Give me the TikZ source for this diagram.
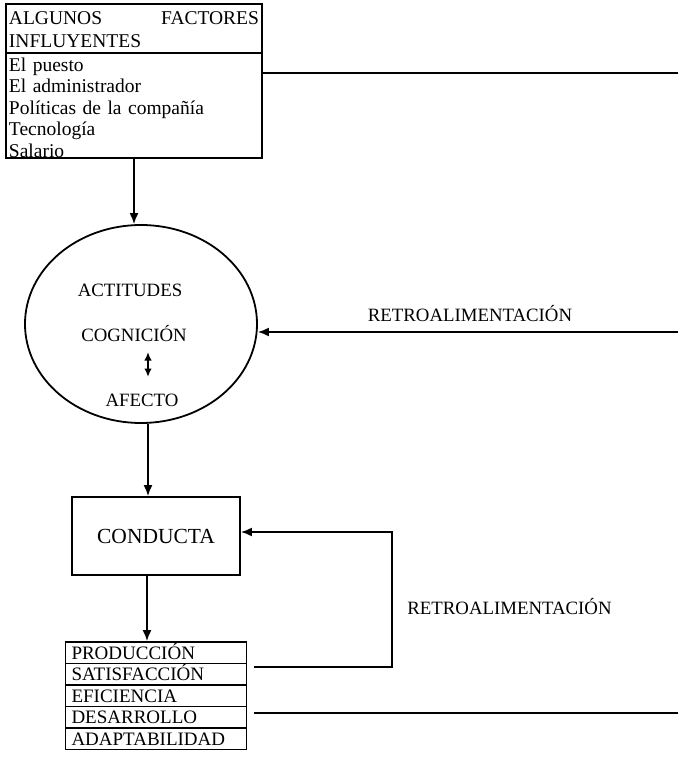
\documentclass[tikz,border=0pt]{standalone}
\usepackage{fontspec}
\setmainfont{Liberation Serif}
\usetikzlibrary{shapes,arrows,arrows.meta}

\begin{document}
\begin{tikzpicture}[x=1pt, y=1pt, line width=1.8pt,
	txt/.style={font=\fontsize{19}{22.5}\selectfont},
	lbl/.style={font=\fontsize{18.8}{22}\selectfont, inner sep=0pt, text height=12.5pt, text depth=0pt},
	fila/.style={draw, txt, minimum width=181pt, minimum height=21.5pt, text width=169pt, inner xsep=6pt, inner ysep=0pt, text height=13pt, text depth=0pt, align=left},
	arr/.style={-{Latex[length=11pt,width=9pt]}},
	dbl/.style={{Latex[length=8.5pt,width=7.5pt]}-{Latex[length=8.5pt,width=7.5pt]}}]
			\useasboundingbox (0,0) rectangle (678,-760);
			
			\node[draw, font=\fontsize{19.5}{23}\selectfont, minimum width=256pt, minimum height=49pt, text width=250pt, inner xsep=3pt, inner ysep=0pt, align=left] (fac) at (134,-28.5) {\rule{0pt}{16pt}ALGUNOS\hskip 0pt plus 1filll FACTORES\\INFLUYENTES};
			\node[draw, font=\fontsize{19.5}{21.5}\selectfont, minimum width=256pt, minimum height=105pt, text width=250pt, inner xsep=3pt, inner ysep=0pt, align=left, below of=fac, node distance=77pt] (inf) {\rule{0pt}{17.5pt}El puesto\\El administrador\\Políticas de la compañía\\Tecnología\\Salario};
			
			\node[draw, ellipse, minimum width=232pt, minimum height=198pt, inner sep=0pt, below of=inf, node distance=218.5pt, xshift=7pt] (act) {};
			\node[lbl, below of=act, node distance=11pt, xshift=-7pt] (cog) {COGNICIÓN};
			\node[lbl, above of=cog, node distance=45pt, xshift=-4pt] (acti) {ACTITUDES};
			\node[lbl, below of=cog, node distance=65pt, xshift=8pt] (afe) {AFECTO};
			
			\node[draw, font=\fontsize{21.5}{24}\selectfont, minimum width=168pt, minimum height=78pt, below of=act, node distance=212pt, xshift=15pt] (con) {CONDUCTA};
			
			\node[fila, below of=con, node distance=116.75pt] (pro) {PRODUCCIÓN};
			\node[fila, below of=pro, node distance=21.5pt] (sat) {SATISFACCIÓN};
			\node[fila, below of=sat, node distance=21.5pt] (efi) {EFICIENCIA};
			\node[fila, below of=efi, node distance=21.5pt] (des) {DESARROLLO};
			\node[fila, below of=des, node distance=21.5pt] (ada) {ADAPTABILIDAD};
			
			\node[lbl] (ret1) at (470,-315) {RETROALIMENTACIÓN};
			\node[lbl] (ret2) at (509.5,-608) {RETROALIMENTACIÓN};
			
			\coordinate (r1) at (678,-73);
			\coordinate (r2) at (678,-332);
			\coordinate (r3) at (678,-713);
			\coordinate (fb) at (392,-532);
			\coordinate (fbl) at (0,-667);
			
			\draw[arr] (inf.south) -- (inf.south |- act.north);
			\draw (inf.east |- r1) -- (r1);
			\draw[arr] (r2) -- (r2 -| act.east);
			\draw[dbl] ([xshift=14pt,yshift=-17pt]cog.center) -- ([xshift=6pt,yshift=23pt]afe.center);
			\draw[arr] ([xshift=7pt]act.south) -- ([xshift=7pt]act.south |- con.north);
			\draw[arr] ([xshift=-9pt]con.south) -- ([xshift=-9pt]con.south |- pro.north);
			\draw[arr, shorten <=7pt] (sat.east |- fbl) -| (fb) -- (con.east |- fb);
			\draw[shorten <=7pt] (des.east |- r3) -- (r3);
		\end{tikzpicture}
\end{document}
